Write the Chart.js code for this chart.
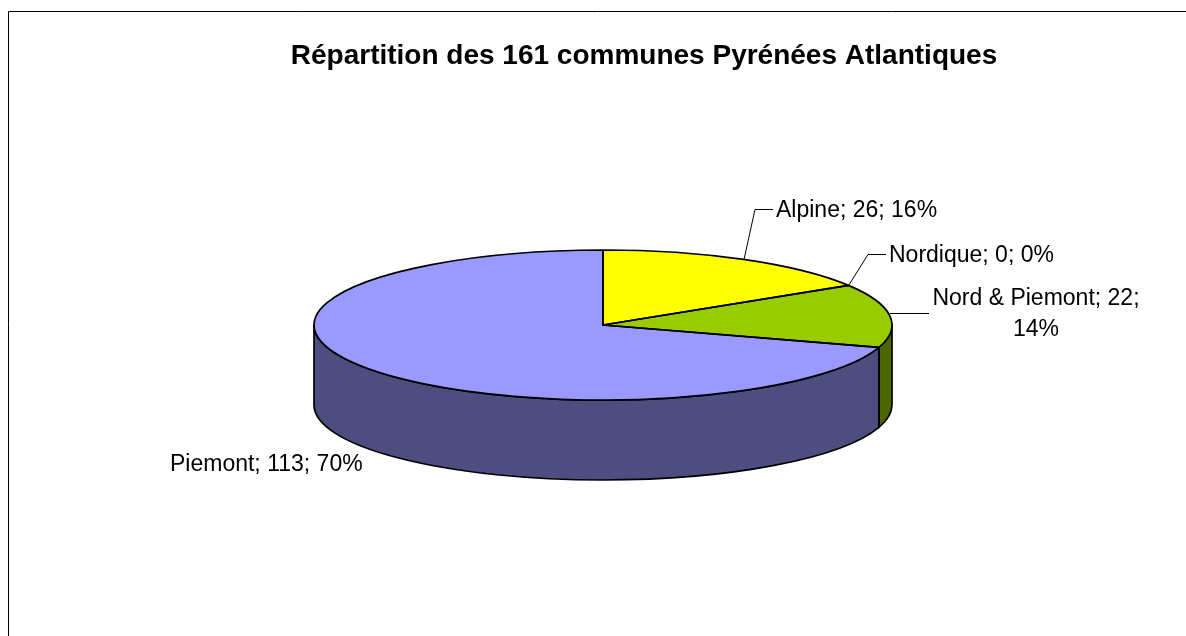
<!DOCTYPE html>
<html>
<head>
<meta charset="utf-8">
<title>Répartition des communes</title>
<script src="https://cdn.jsdelivr.net/npm/chart.js@4"></script>
<style>
  html, body { margin: 0; padding: 0; background: #ffffff; }
  canvas { display: block; }
</style>
</head>
<body>
<canvas id="chartCanvas" width="1186" height="636"></canvas>
<script>
// data
const chartTitle = 'Répartition des 161 communes Pyrénées Atlantiques';
const categories = ['Alpine', 'Nordique', 'Nord & Piemont', 'Piemont'];
const values = [26, 0, 22, 113];
const topColors = ['#FFFF00', '#FF9900', '#99CC00', '#9999FF'];
const sideColors = ['#808000', '#804D00', '#4D6600', '#4D4D80'];

// look of the tilted pie
const squash = 75 / 289;
const depth = 80;
const fontFamily = '"Liberation Sans", Arial, sans-serif';

// label text anchors and leader lines, same order as categories
const labelBoxes = [
    { x: 776, y: 211, align: 'left', lines: 1, leader: [[744, 259], [755, 209], [773, 209]] },
    { x: 889, y: 256, align: 'left', lines: 1, leader: [[848, 286], [868, 254], [886, 254]] },
    { x: 1036, y: 299, align: 'center', lines: 2, leader: [[890, 313], [929, 313]] },
    { x: 170, y: 465, align: 'left', lines: 1, leader: null }
];

function labelLines(i) {
    const total = values.reduce((a, b) => a + b, 0);
    const pct = Math.round(values[i] / total * 100) + '%';
    if (labelBoxes[i].lines === 2) {
        return [categories[i] + '; ' + values[i] + ';', pct];
    }
    return [categories[i] + '; ' + values[i] + '; ' + pct];
}

const tiltedPie = {
    id: 'tiltedPie',
    beforeDraw(chart) {
        const ctx = chart.ctx;
        ctx.save();
        ctx.fillStyle = '#ffffff';
        ctx.fillRect(0, 0, chart.width, chart.height);
        // chart frame, only top and left fall inside the picture
        ctx.strokeStyle = '#000000';
        ctx.lineWidth = 1;
        ctx.beginPath();
        ctx.moveTo(8.5, chart.height);
        ctx.lineTo(8.5, 11.5);
        ctx.lineTo(chart.width, 11.5);
        ctx.stroke();
        ctx.restore();
    },
    beforeDatasetsDraw(chart) {
        const ctx = chart.ctx;
        const arcs = chart.getDatasetMeta(0).data;
        const cx = arcs[0].x, cy = arcs[0].y, rx = arcs[0].outerRadius, ry = rx * squash;

        // side wall, only the part of each slice facing the viewer
        ctx.save();
        ctx.strokeStyle = '#000000';
        ctx.lineWidth = 1.7;
        arcs.forEach((arc, i) => {
            const a = Math.max(arc.startAngle, 0);
            const b = Math.min(arc.endAngle, Math.PI);
            if (b <= a) return;
            ctx.beginPath();
            ctx.ellipse(cx, cy, rx, ry, 0, a, b);
            ctx.ellipse(cx, cy + depth, rx, ry, 0, b, a, true);
            ctx.closePath();
            ctx.fillStyle = sideColors[i];
            ctx.fill();
            ctx.stroke();
        });
        ctx.restore();

        // the library draws the top face, flattened
        ctx.save();
        ctx.translate(0, cy);
        ctx.scale(1, squash);
        ctx.translate(0, -cy);
    },
    afterDatasetsDraw(chart) {
        const ctx = chart.ctx;
        ctx.restore();

        const arcs = chart.getDatasetMeta(0).data;
        const cx = arcs[0].x, cy = arcs[0].y, rx = arcs[0].outerRadius, ry = rx * squash;

        // outlines of the top face, after the restore so the pen stays even
        ctx.save();
        ctx.strokeStyle = '#000000';
        ctx.lineWidth = 1.7;
        ctx.lineJoin = 'round';
        arcs.forEach((arc) => {
            if (arc.endAngle <= arc.startAngle) return;
            ctx.beginPath();
            ctx.moveTo(cx, cy);
            ctx.ellipse(cx, cy, rx, ry, 0, arc.startAngle, arc.endAngle);
            ctx.closePath();
            ctx.stroke();
        });
        ctx.restore();

        // leader lines and labels
        ctx.save();
        ctx.strokeStyle = '#000000';
        ctx.lineWidth = 1;
        ctx.fillStyle = '#000000';
        ctx.font = '23px ' + fontFamily;
        ctx.textBaseline = 'middle';
        labelBoxes.forEach((box, i) => {
            if (box.leader) {
                ctx.beginPath();
                box.leader.forEach((p, j) => {
                    if (j === 0) ctx.moveTo(p[0], p[1] + 0.5);
                    else ctx.lineTo(p[0], p[1] + 0.5);
                });
                ctx.stroke();
            }
            ctx.textAlign = box.align;
            labelLines(i).forEach((line, j) => {
                ctx.fillText(line, box.x, box.y + j * 31);
            });
        });

        ctx.font = 'bold 28px ' + fontFamily;
        ctx.textAlign = 'center';
        ctx.fillText(chartTitle, 644, 56);
        ctx.restore();
    }
};

new Chart(document.getElementById('chartCanvas').getContext('2d'), {
    type: 'pie',
    data: {
        labels: categories,
        datasets: [{
            data: values,
            backgroundColor: topColors,
            borderWidth: 0
        }]
    },
    options: {
        responsive: false,
        animation: false,
        layout: { padding: { left: 314, right: 294, top: 36, bottom: 22 } },
        plugins: {
            legend: { display: false },
            title: { display: false },
            tooltip: { enabled: false }
        }
    },
    plugins: [tiltedPie]
});
</script>
</body>
</html>
